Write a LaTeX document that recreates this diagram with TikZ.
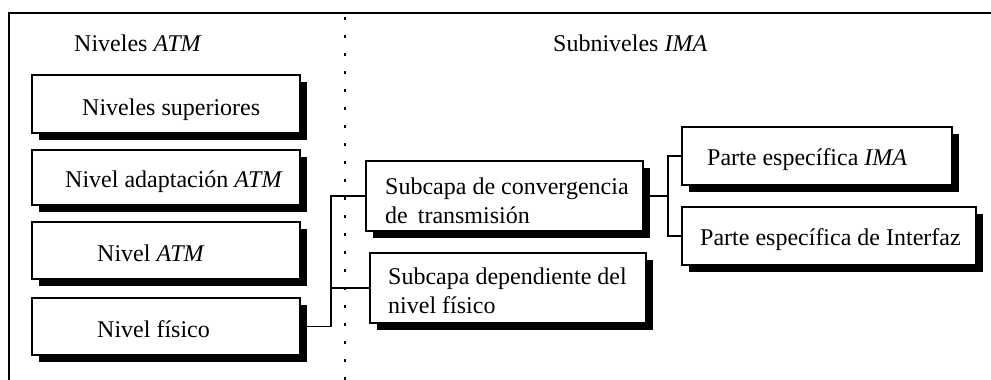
\documentclass[tikz,border=0pt]{standalone}
\usepackage{fontspec}
\setmainfont{Liberation Serif}
\usetikzlibrary{shadows}
\begin{document}
\begin{tikzpicture}[x=1pt,y=-1pt,
  box/.style={draw=black, fill=white, line width=1.3pt, inner sep=0pt,
    drop shadow={shadow xshift=7pt, shadow yshift=-7pt, fill=black, opacity=1}},
  txt/.style={anchor=base west, inner sep=0pt, align=left,
    font=\fontsize{24pt}{29pt}\selectfont},
  conn/.style={draw=black, line width=1.3pt},
  frame/.style={draw=black, line width=2pt},
  sep/.style={draw=black, line width=1.2pt, dash pattern=on 3pt off 15pt}]
\useasboundingbox (0,0) rectangle (991,380);
\draw[frame] (8.5,380) -- (8.5,13) -- (991,13);
\draw[sep] (345,17) -- (345,380);
% coordinates for the connector trunks
\coordinate (j1) at (331,0);
\coordinate (j2) at (668,0);
% boxes
\node[box, minimum width=268pt, minimum height=58pt] (bsup) at (166,104) {};
\node[box, minimum width=268pt, minimum height=55pt] (bada) at (166,177.5) {};
\node[box, minimum width=268pt, minimum height=57pt] (batm) at (166,250.5) {};
\node[box, minimum width=268pt, minimum height=57pt] (bfis) at (166,326.5) {};
\node[box, minimum width=277pt, minimum height=70pt] (bct) at (504.5,196) {};
\node[box, minimum width=276pt, minimum height=70pt] (bdf) at (508,288) {};
\node[box, minimum width=270pt, minimum height=58pt] (bima) at (817,156) {};
\node[box, minimum width=294pt, minimum height=58pt] (bint) at (829,236) {};
% connectors
\draw[conn] (bfis.east) -- (bfis.east -| j1) -- (bct.west -| j1) -- (bct.west);
\draw[conn] (bdf.west -| j1) -- (bdf.west);
\draw[conn] (bct.east) -- (bct.east -| j2);
\draw[conn] (bima.west) -- (bima.west -| j2) -- (bint.west -| j2) -- (bint.west);
% texts
\node[txt] (hatm) at (74,51) {Niveles \textit{ATM}};
\node[txt] (hima) at (553,51) {Subniveles \textit{IMA}};
\node[txt] (tsup) at (82,115) {Niveles superiores};
\node[txt] (tada) at (65,187) {Nivel adaptación \textit{ATM}};
\node[txt] (tatm) at (97,261) {Nivel \textit{ATM}};
\node[txt] (tfis) at (97,337) {Nivel físico};
\node[txt] (tct) at (385,223) {Subcapa de convergencia\\de\hspace{4pt} transmisión};
\node[txt] (tdf) at (388,313) {Subcapa dependiente del\\nivel físico};
\node[txt] (tima) at (707,165) {Parte específica \textit{IMA}};
\node[txt] (tint) at (700,245) {Parte específica de Interfaz};
\end{tikzpicture}
\end{document}
